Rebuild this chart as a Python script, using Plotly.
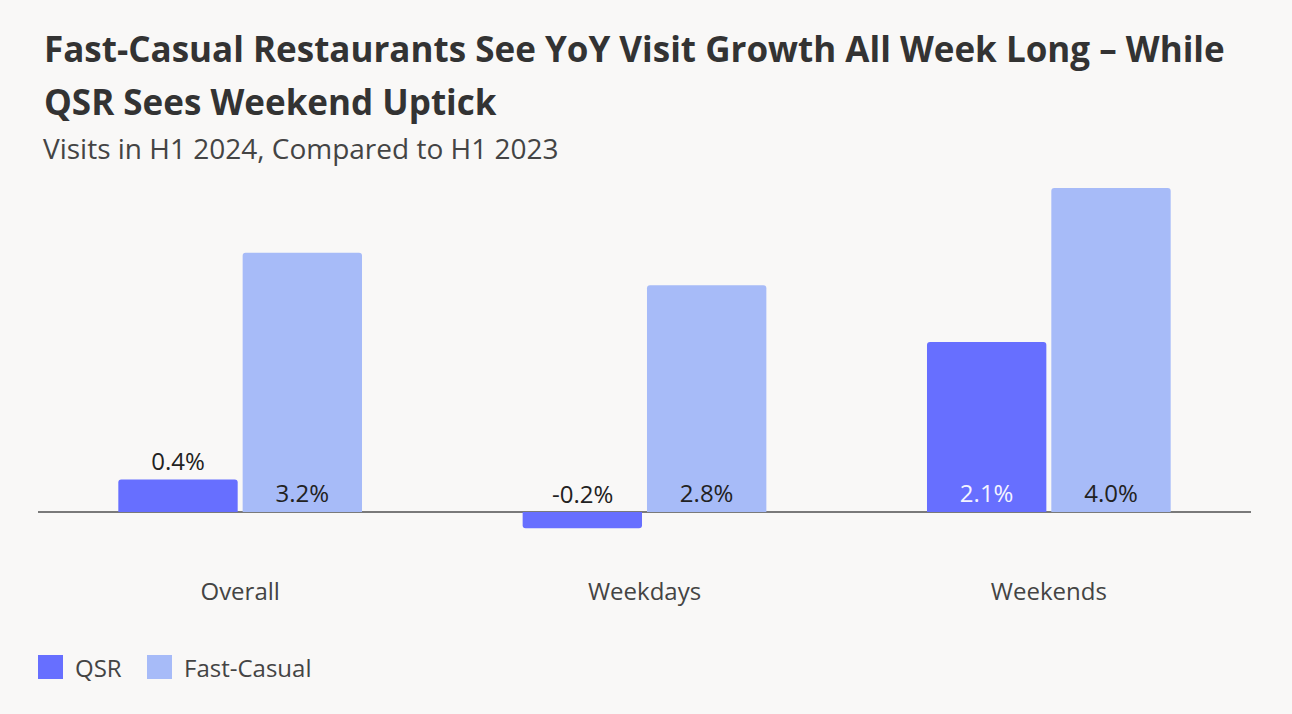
import plotly.graph_objects as go

categories = ["Overall", "Weekdays", "Weekends"]
series_names = ["QSR", "Fast-Casual"]
qsr_values = [0.4, -0.2, 2.1]
fast_casual_values = [3.2, 2.8, 4.0]

title_lines = ["Fast-Casual Restaurants See YoY Visit Growth All Week Long \u2013 While",
               "QSR Sees Weekend Uptick"]
subtitle = "Visits in H1 2024, Compared to H1 2023"

colors = ["#676fff", "#a7bbf8"]
bg = "#f9f8f7"
font_family = "Open Sans"
label_size = 24

# plot area in pixels (used to place the decorations)
W, H = 1292, 714
left, right, top, bottom = 38, 1251, 180, 570
zero_px = 512
px_per_unit = 81.0


def px_x(px):
    return (px - left) / (right - left)


def px_y(py):
    return (bottom - py) / (bottom - top)


fmt = lambda v: f"{v:.1f}%"

fig = go.Figure()

fig.add_trace(go.Bar(
    x=categories, y=qsr_values, name=series_names[0],
    marker=dict(color=colors[0], line=dict(width=0)),
    text=[fmt(v) for v in qsr_values],
    textposition=["outside", "none", "inside"],
    insidetextanchor="start",
    textangle=0,
    insidetextfont=dict(family=font_family, size=label_size, color="#f4f4ff"),
    outsidetextfont=dict(family=font_family, size=label_size, color="#222222"),
    cliponaxis=False,
    showlegend=False,
))

fig.add_trace(go.Bar(
    x=categories, y=fast_casual_values, name=series_names[1],
    marker=dict(color=colors[1], line=dict(width=0)),
    text=[fmt(v) for v in fast_casual_values],
    textposition="inside",
    insidetextanchor="start",
    textangle=0,
    insidetextfont=dict(family=font_family, size=label_size, color="#222222"),
    cliponaxis=False,
    showlegend=False,
))

annotations = []
# negative QSR value label sits just above the axis line
for c, v in zip(categories, qsr_values):
    if v < 0:
        annotations.append(dict(
            x=c, y=0, xref="x", yref="y", text=fmt(v), showarrow=False,
            xshift=-62, yshift=19, font=dict(family=font_family, size=label_size, color="#222222"),
        ))

annotations.append(dict(x=px_x(42), y=px_y(48), xref="paper", yref="paper", xanchor="left",
                        yanchor="middle", showarrow=False, text="<b>" + title_lines[0] + "</b>",
                        font=dict(family=font_family, size=35, color="#333333")))
annotations.append(dict(x=px_x(42), y=px_y(101), xref="paper", yref="paper", xanchor="left",
                        yanchor="middle", showarrow=False, text="<b>" + title_lines[1] + "</b>",
                        font=dict(family=font_family, size=35, color="#333333")))
annotations.append(dict(x=px_x(41), y=px_y(148), xref="paper", yref="paper", xanchor="left",
                        yanchor="middle", showarrow=False, text=subtitle,
                        font=dict(family=font_family, size=28, color="#444444")))

# legend drawn by hand so the swatches can be large
shapes = []
legend_x = [38, 147]
for i, name in enumerate(series_names):
    x0 = legend_x[i]
    shapes.append(dict(type="rect", xref="paper", yref="paper",
                       x0=px_x(x0), x1=px_x(x0 + 25), y0=px_y(679), y1=px_y(655),
                       fillcolor=colors[i], line=dict(width=0)))
    annotations.append(dict(x=px_x(x0 + 35), y=px_y(667), xref="paper", yref="paper",
                            xanchor="left", yanchor="middle", showarrow=False, text=name,
                            font=dict(family=font_family, size=label_size, color="#444444")))

y_max = (zero_px - top) / px_per_unit
y_min = (zero_px - bottom) / px_per_unit

fig.update_layout(
    width=W, height=H,
    paper_bgcolor=bg, plot_bgcolor=bg,
    margin=dict(l=left, r=W - right, t=top, b=H - bottom),
    barmode="group", bargap=0.385, bargroupgap=0.04,
    barcornerradius=3,
    font=dict(family=font_family, color="#444444"),
    xaxis=dict(showgrid=False, showline=False, ticks="", tickfont=dict(size=label_size, color="#444444"),
               ticklabelstandoff=5),
    yaxis=dict(range=[y_min, y_max], showgrid=False, showticklabels=False,
               zeroline=True, zerolinecolor="#7a7a7a", zerolinewidth=1.5),
    annotations=annotations,
    shapes=shapes,
    showlegend=False,
)

fig.write_html("out.html", config={"displayModeBar": False},
               post_script="document.body.style.margin='0';")
